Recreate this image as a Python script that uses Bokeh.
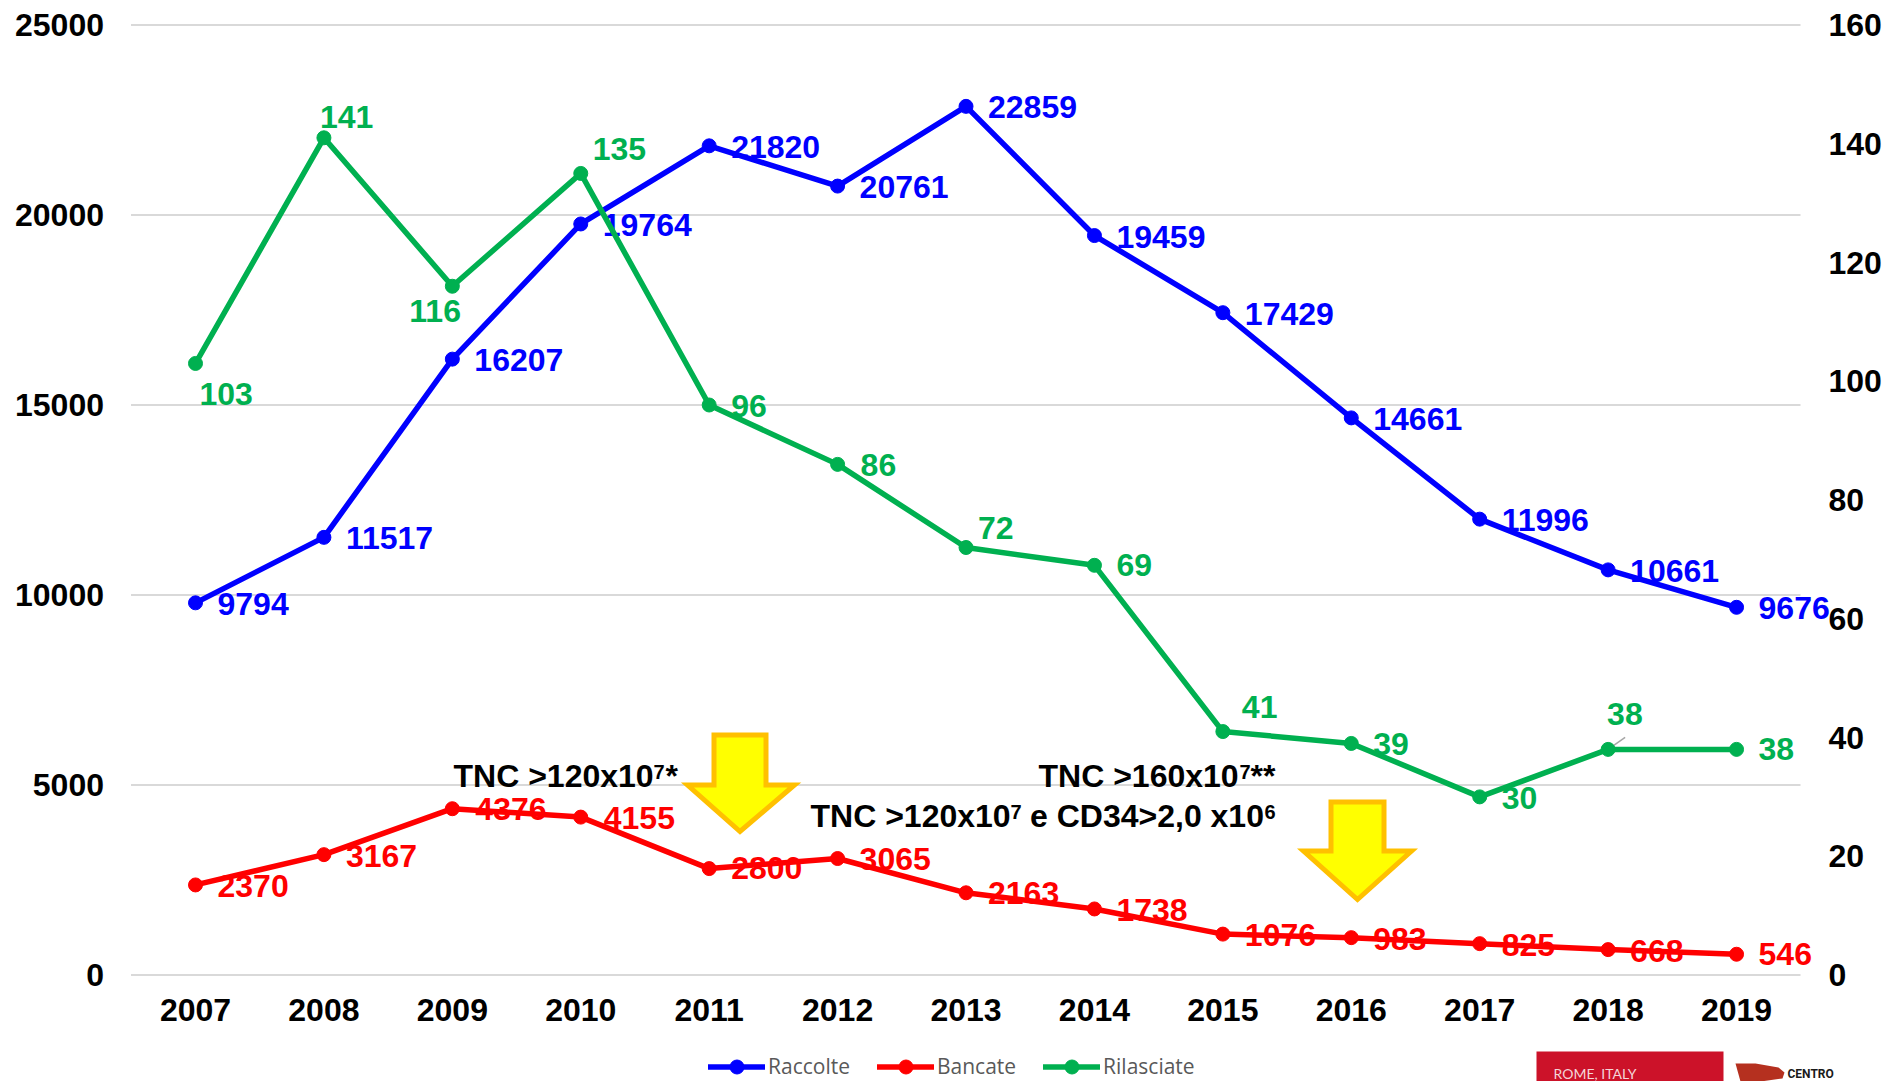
from bokeh.plotting import figure
from bokeh.models import Range1d, LinearAxis, FixedTicker, Label, Legend, LegendItem
from bokeh.embed import file_html
from bokeh.resources import INLINE

years = list(range(2007, 2020))
raccolte = [9794, 11517, 16207, 19764, 21820, 20761, 22859, 19459, 17429, 14661, 11996, 10661, 9676]
bancate = [2370, 3167, 4376, 4155, 2800, 3065, 2163, 1738, 1076, 983, 825, 668, 546]
rilasciate = [103, 141, 116, 135, 96, 86, 72, 69, 41, 39, 30, 38, 38]
left_ticks = [0, 5000, 10000, 15000, 20000, 25000]
right_ticks = [0, 20, 40, 60, 80, 100, 120, 140, 160]

BLUE, RED, GREEN = "#0000ff", "#ff0000", "#00b050"
FONT = "Liberation Sans"
W, H = 1887, 1081

def X(px):
    return 2007 + (px - 195) / 128.42
def Y(py):
    return (974.5 - py) / 950 * 25000
def YR(py):
    return (974.5 - py) / 950 * 160

# the frame fills the canvas, so that the 2019 labels and the legend are not clipped
p = figure(width=W, height=H, output_backend="svg", toolbar_location=None,
           x_range=Range1d(X(0), X(W)), y_range=Range1d(Y(H), Y(0)),
           min_border_left=0, min_border_right=0, min_border_top=0, min_border_bottom=0,
           outline_line_color=None, background_fill_color="white")
p.extra_y_ranges = {"r": Range1d(YR(H), YR(0))}

def style(ax, standoff):
    ax.major_label_text_font = FONT
    ax.major_label_text_font_size = "32px"
    ax.major_label_text_font_style = "bold"
    ax.major_label_text_color = "black"
    ax.major_label_standoff = standoff
    ax.major_tick_out = 0
    ax.major_tick_in = 0
    ax.axis_line_color = None
    ax.major_tick_line_color = None
    ax.minor_tick_line_color = None

style(p.xaxis[0], 24)
style(p.yaxis[0], 27)
p.xaxis[0].ticker = FixedTicker(ticks=years)
p.xaxis[0].fixed_location = 0
p.yaxis[0].ticker = FixedTicker(ticks=left_ticks)
p.yaxis[0].fixed_location = X(130.5)
raxis = LinearAxis(y_range_name="r", ticker=FixedTicker(ticks=right_ticks))
style(raxis, 28)
raxis.fixed_location = X(1800)
p.add_layout(raxis, "right")
p.xgrid.visible = False
p.ygrid.visible = False
p.segment([X(130.5)] * len(left_ticks), left_ticks, [X(1800)] * len(left_ticks), left_ticks,
          line_color="#d9d9d9", line_width=2, level="image")

def lab(x, y, t, c, dx=0, dy=0, rng="default", size="32px", font=FONT, bold=True, level="underlay"):
    p.add_layout(Label(x=x, y=y, text=str(t), text_color=c, x_offset=dx, y_offset=dy,
                       text_font=font, text_font_size=size,
                       text_font_style="bold" if bold else "normal",
                       text_baseline="middle", y_range_name=rng, level=level))

off_b = [(22, -1)] * 13
off_r = [(22, -1), (22, -1), (23, 0), (23, -1), (22, 1), (22, 0), (22, 0),
         (22, -1), (22, -1), (22, -1), (22, -1), (22, -1), (22, 0)]
off_g = [(4, -31), (-4, 21), (-43, -25), (12, 24), (22, -1), (23, -1), (12, 20),
         (22, 0), (19, 25), (22, -1), (22, -1), (-1, 35), (22, 0)]
for x, v, o in zip(years, raccolte, off_b):
    lab(x, v, v, BLUE, *o)
for x, v, o in zip(years, bancate, off_r):
    lab(x, v, v, RED, *o)
for x, v, o in zip(years, rilasciate, off_g):
    lab(x, v, v, GREEN, *o, rng="r")

LW = 5.5
lb = p.line(years, raccolte, line_color=BLUE, line_width=LW, line_cap="round", line_join="round")
sb = p.scatter(years, raccolte, size=14, color=BLUE)
lr = p.line(years, bancate, line_color=RED, line_width=LW, line_cap="round", line_join="round")
sr = p.scatter(years, bancate, size=14, color=RED)
lg = p.line(years, rilasciate, line_color=GREEN, line_width=LW, line_cap="round", line_join="round", y_range_name="r")
sg = p.scatter(years, rilasciate, size=14, color=GREEN, y_range_name="r")

# small leader line of the 2018 green label
p.segment([2018], [38], [2018 + 17 / 128.42], [38 + 12 / 5.94], y_range_name="r",
          line_color="#a6a6a6", line_width=1.5, level="underlay")

# annotation texts, with their superscripts
for t, px, py, sz in [("TNC >120x10", 453, 775, "32px"), ("7", 653, 771, "20px"), ("*", 665, 775, "32px"),
                      ("TNC >160x10", 1038, 775, "32px"), ("7", 1239, 771, "20px"), ("**", 1250, 775, "32px"),
                      ("TNC >120x10", 810, 815, "32px"), ("7", 1010, 811, "20px"),
                      ("e CD34>2,0 x10", 1029.5, 815, "32px"), ("6", 1264, 811, "20px")]:
    lab(X(px), Y(py), t, "black", size=sz, level="annotation")

def poly(pts, fill, line=None, lw=0):
    p.patch([X(a) for a, _ in pts], [Y(b) for _, b in pts], fill_color=fill,
            line_color=line, line_width=lw, line_join="miter", level="overlay")

def arrow(l, r, hl, hr, top, neck, tip):
    cx = (l + r) / 2
    poly([(l, top), (r, top), (r, neck), (hr, neck), (cx, tip), (hl, neck), (l, neck), (l, top)],
         "#ffff00", "#ffc000", 5)

arrow(713.5, 765.5, 687, 794, 734.5, 784.5, 831)
arrow(1330.5, 1383.5, 1303, 1411, 801.5, 850.5, 899)

# logos at the bottom right
poly([(1536, 1051), (1723, 1051), (1723, 1081), (1536, 1081)], "#cc1229")
lab(X(1553), Y(1073), "ROME, ITALY", "#f4d5d8", size="14px", font="Lato", bold=False, level="overlay")
poly([(1735, 1063), (1755, 1063), (1778, 1067), (1784, 1072), (1782, 1078), (1760, 1081), (1740, 1081)], "#b5301f")
lab(X(1787), Y(1073), "CENTRO", "#1a1a1a", size="12px", font="Roboto", level="overlay")

legend = Legend(items=[LegendItem(label="Raccolte", renderers=[lb, sb]),
                       LegendItem(label="Bancate", renderers=[lr, sr]),
                       LegendItem(label="Rilasciate", renderers=[lg, sg])],
                orientation="horizontal", location=(708, -2.5),
                padding=0, margin=0, spacing=27, glyph_width=57, glyph_height=35,
                label_standoff=3, border_line_color=None, background_fill_alpha=0,
                label_text_font="Open Sans", label_text_font_size="21px",
                label_text_color="#595959")
p.add_layout(legend)

open("out.html", "w").write(file_html(p, INLINE))
